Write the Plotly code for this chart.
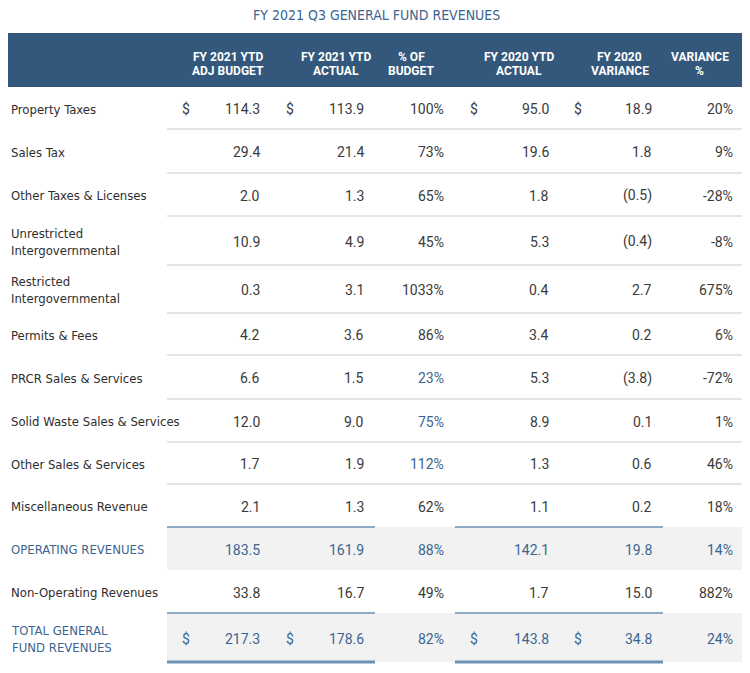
import plotly.graph_objects as go

# ---------------- DATA ----------------
title = "FY 2021 Q3 GENERAL FUND REVENUES"
headers = [["FY 2021 YTD", "ADJ BUDGET"], ["FY 2021 YTD", "ACTUAL"], ["% OF", "BUDGET"],
           ["FY 2020 YTD", "ACTUAL"], ["FY 2020", "VARIANCE"], ["VARIANCE", "%"]]

row_labels = ["Property Taxes", "Sales Tax", "Other Taxes & Licenses",
              "Unrestricted<br>Intergovernmental", "Restricted<br>Intergovernmental",
              "Permits & Fees", "PRCR Sales & Services", "Solid Waste Sales & Services",
              "Other Sales & Services", "Miscellaneous Revenue",
              "OPERATING REVENUES", "Non-Operating Revenues", "TOTAL GENERAL<br>FUND REVENUES"]
adj_budget   = [114.3, 29.4, 2.0, 10.9, 0.3, 4.2, 6.6, 12.0, 1.7, 2.1, 183.5, 33.8, 217.3]
ytd_actual   = [113.9, 21.4, 1.3, 4.9, 3.1, 3.6, 1.5, 9.0, 1.9, 1.3, 161.9, 16.7, 178.6]
pct_budget   = [100, 73, 65, 45, 1033, 86, 23, 75, 112, 62, 88, 49, 82]
fy20_actual  = [95.0, 19.6, 1.8, 5.3, 0.4, 3.4, 5.3, 8.9, 1.3, 1.1, 142.1, 1.7, 143.8]
fy20_var     = [18.9, 1.8, -0.5, -0.4, 2.7, 0.2, -3.8, 0.1, 0.6, 0.2, 19.8, 15.0, 34.8]
var_pct      = [20, 9, -28, -8, 675, 6, -72, 1, 46, 18, 14, 882, 24]
row_kind     = ["dollar", "", "", "", "", "", "", "", "", "", "subtotal", "", "total"]
pct_flagged  = ["PRCR Sales & Services", "Solid Waste Sales & Services", "Other Sales & Services"]

# ---------------- STYLE / LAYOUT ----------------
W, H = 750, 673
BODY_MARGIN = 8  # default page margin around the plot div
HEADER_BG = "#34587b"
BLUE_TXT = "#3b6590"
BLUE_LINE = "#6d91b6"
TXT = "#3a3a3a"
LBL = "#2e2e2e"
BAND = "#f2f2f2"
SEP = "#dcdcdc"
COND = "DejaVu Sans Condensed, Roboto, sans-serif"
HEAD = "Roboto, Arial, sans-serif"
NUM = "Roboto, Arial, sans-serif"

row_heights = [42, 44, 43, 49, 48, 42, 44, 43, 42, 43, 43, 43, 49]
table_top = 87
value_right = [262, 366, 446, 551, 654, 735]
dollar_left = [180, 284, None, 468, 572, None]
header_center = [227.5, 335.5, 411, 518.5, 619.5, 699.5]
label_x = 8.5
data_x0, data_x1 = 167, 743
blue_segments = [(167, 375), (455, 663)]

def fmt_num(v):
    return "(%.1f)" % abs(v) if v < 0 else "%.1f" % v

def fmt_pct(v):
    return "%d%%" % v

columns = [
    [fmt_num(v) for v in adj_budget],
    [fmt_num(v) for v in ytd_actual],
    [fmt_pct(v) for v in pct_budget],
    [fmt_num(v) for v in fy20_actual],
    [fmt_num(v) for v in fy20_var],
    [fmt_pct(v) for v in var_pct],
]

bounds = [table_top]
for h in row_heights:
    bounds.append(bounds[-1] + h)

fig = go.Figure()
shapes = []
annotations = []

annotations.append(dict(x=W / 2 + 1, y=15, xref="x", yref="y", text=title, showarrow=False,
                        xanchor="center", yanchor="middle",
                        font=dict(family=COND, size=14, color=BLUE_TXT)))
shapes.append(dict(type="rect", xref="x", yref="y", x0=7, x1=743, y0=33, y1=table_top,
                   fillcolor=HEADER_BG, line=dict(width=0), layer="below"))
for c, lines in enumerate(headers):
    for k, ln in enumerate(lines):
        annotations.append(dict(x=header_center[c], y=57 + 14 * k, xref="x", yref="y",
                                text="<b>%s</b>" % ln, showarrow=False,
                                xanchor="center", yanchor="middle",
                                font=dict(family=HEAD, size=12, color="white")))

n = len(row_labels)
for i in range(n):
    y0, y1 = bounds[i], bounds[i + 1]
    yc = (y0 + y1) / 2 + 1
    kind = row_kind[i]
    emph = kind in ("subtotal", "total")
    if emph:
        shapes.append(dict(type="rect", xref="x", yref="y", x0=data_x0, x1=data_x1,
                           y0=y0, y1=y1, fillcolor=BAND, line=dict(width=0), layer="below"))
        for (a, b) in blue_segments:
            shapes.append(dict(type="line", xref="x", yref="y", x0=a, x1=b, y0=y0, y1=y0,
                               line=dict(color=BLUE_LINE, width=1.5)))
        if kind == "total":
            for (a, b) in blue_segments:
                shapes.append(dict(type="line", xref="x", yref="y", x0=a, x1=b, y0=y1, y1=y1,
                                   line=dict(color=BLUE_LINE, width=3)))
    else:
        nxt = row_kind[i + 1] if i + 1 < n else None
        if nxt not in ("subtotal", "total") and i + 1 < n:
            shapes.append(dict(type="line", xref="x", yref="y", x0=data_x0, x1=data_x1,
                               y0=y1, y1=y1, line=dict(color=SEP, width=1.5)))
    lbl_color = BLUE_TXT if emph else LBL
    annotations.append(dict(x=label_x, y=yc, xref="x", yref="y", text=row_labels[i],
                            showarrow=False, xanchor="left", yanchor="middle", align="left",
                            font=dict(family=COND, size=13, color=lbl_color)))
    for c in range(6):
        col_color = BLUE_TXT if emph else TXT
        if c == 2 and row_labels[i] in pct_flagged:
            col_color = BLUE_TXT
        annotations.append(dict(x=value_right[c], y=yc, xref="x", yref="y", text=columns[c][i],
                                showarrow=False, xanchor="right", yanchor="middle",
                                font=dict(family=NUM, size=14, color=col_color)))
        if kind in ("dollar", "total") and dollar_left[c] is not None:
            annotations.append(dict(x=dollar_left[c], y=yc, xref="x", yref="y", text="$",
                                    showarrow=False, xanchor="left", yanchor="middle",
                                    font=dict(family=NUM, size=14, color=col_color)))

# The page body keeps its default 8px margin, so the figure is shrunk by that
# amount and its axes are set so that one data unit equals one page pixel.
fig.update_layout(
    width=W - BODY_MARGIN, height=H - BODY_MARGIN, autosize=False,
    margin=dict(l=0, r=0, t=0, b=0),
    paper_bgcolor="white", plot_bgcolor="white",
    xaxis=dict(range=[BODY_MARGIN, W], visible=False, fixedrange=True),
    yaxis=dict(range=[H, BODY_MARGIN], visible=False, fixedrange=True),
    shapes=shapes, annotations=annotations, showlegend=False,
)
fig.write_html("out.html")
